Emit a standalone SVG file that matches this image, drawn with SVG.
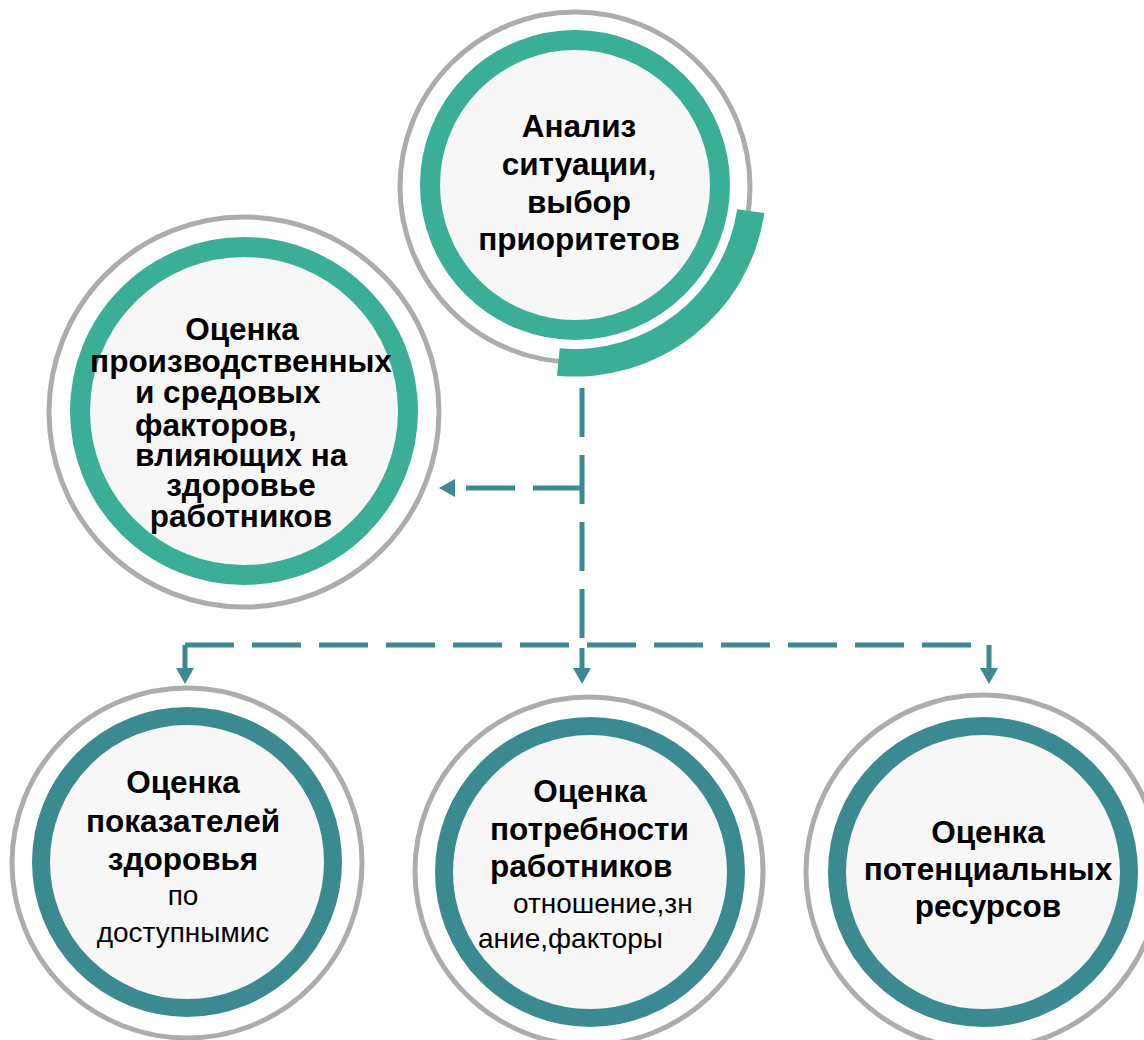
<svg xmlns="http://www.w3.org/2000/svg" width="1144" height="1040" viewBox="0 0 1144 1040">
<style>
.bg{fill:#ffffff}
.gray{fill:none;stroke:#abacae;stroke-width:5}
.fill{fill:#f7f7f7}
.tealA{fill:none;stroke:#3aae96}
.tealB{fill:none;stroke:#3b8a92;stroke-width:18}
.b{font-family:"Liberation Sans",Arial,sans-serif;font-weight:bold;font-size:31.5px;fill:#000}
.r{font-family:"Liberation Sans",Arial,sans-serif;font-size:28px;fill:#000}
.c{text-anchor:middle}
.con{fill:none;stroke:#3b8a92;stroke-width:5}
.dash{stroke-dasharray:49 18}
</style>
<defs>
<marker id="ah" markerUnits="userSpaceOnUse" markerWidth="16" markerHeight="18" viewBox="0 0 16 18" refX="0" refY="9" orient="auto">
<path d="M0,0 L16,9 L0,18 Z" fill="#3b8a92"/>
</marker>
</defs>
<rect class="bg" x="0" y="0" width="1144" height="1040"/>

<g id="node-analysis">
<circle class="gray" cx="575" cy="187" r="175"/>
<circle class="fill" cx="575" cy="185" r="136"/>
<circle class="tealA" cx="575" cy="185" r="145" stroke-width="20"/>
<path d="M 764.4 213.0 A 191.5 191.5 0 0 1 557.0 375.7 L 559.7 348.3 A 164 164 0 0 0 737.2 209.2 Z" fill="#3aae96"/>
<text class="b c" x="579" y="137">Анализ</text>
<text class="b c" x="579" y="175">ситуации,</text>
<text class="b c" x="579" y="213">выбор</text>
<text class="b c" x="579" y="250">приоритетов</text>
</g>

<g id="node-factors">
<circle class="gray" cx="244" cy="412" r="195"/>
<circle class="fill" cx="244" cy="411" r="155"/>
<circle class="tealA" cx="244" cy="411" r="164" stroke-width="20"/>
<text class="b c" x="242" y="340">Оценка</text>
<text class="b c" x="241" y="372">производственных</text>
<text class="b" x="135" y="403">и средовых</text>
<text class="b" x="135" y="436">факторов,</text>
<text class="b" x="135" y="466">влияющих на</text>
<text class="b c" x="241" y="496">здоровье</text>
<text class="b c" x="241" y="527">работников</text>
</g>

<g id="node-health">
<circle class="gray" cx="187" cy="863" r="175"/>
<circle class="fill" cx="187" cy="862" r="138"/>
<circle class="tealB" cx="187" cy="862" r="146"/>
<text class="b c" x="183" y="793">Оценка</text>
<text class="b c" x="183" y="832">показателей</text>
<text class="b c" x="183" y="870">здоровья</text>
<text class="r c" x="183" y="905">по</text>
<text class="r c" x="183" y="942">доступнымис</text>
</g>

<g id="node-needs">
<circle class="gray" cx="589" cy="871" r="174"/>
<circle class="fill" cx="590" cy="872" r="138"/>
<circle class="tealB" cx="590" cy="872" r="146"/>
<text class="b c" x="590" y="802">Оценка</text>
<text class="b" x="490" y="840">потребности</text>
<text class="b" x="490" y="877">работников</text>
<text class="r" x="513" y="913">отношение,зн</text>
<text class="r" x="478" y="948">ание,факторы</text>
</g>

<g id="node-resources">
<circle class="gray" cx="983" cy="872" r="177"/>
<circle class="fill" cx="983" cy="872" r="138"/>
<circle class="tealB" cx="983" cy="872" r="146"/>
<text class="b c" x="988" y="843">Оценка</text>
<text class="b c" x="988" y="880">потенциальных</text>
<text class="b c" x="988" y="917">ресурсов</text>
</g>

<g id="connectors">
<path class="con dash" d="M582 388 V640"/>
<path class="con dash" d="M582 488 H455" marker-end="url(#ah)"/>
<path class="con dash" d="M185 645 H971"/>
<path class="con" d="M185 645 V668" marker-end="url(#ah)"/>
<path class="con" d="M582 648 V668" marker-end="url(#ah)"/>
<path class="con" d="M989 645 V668" marker-end="url(#ah)"/>
</g>
</svg>
